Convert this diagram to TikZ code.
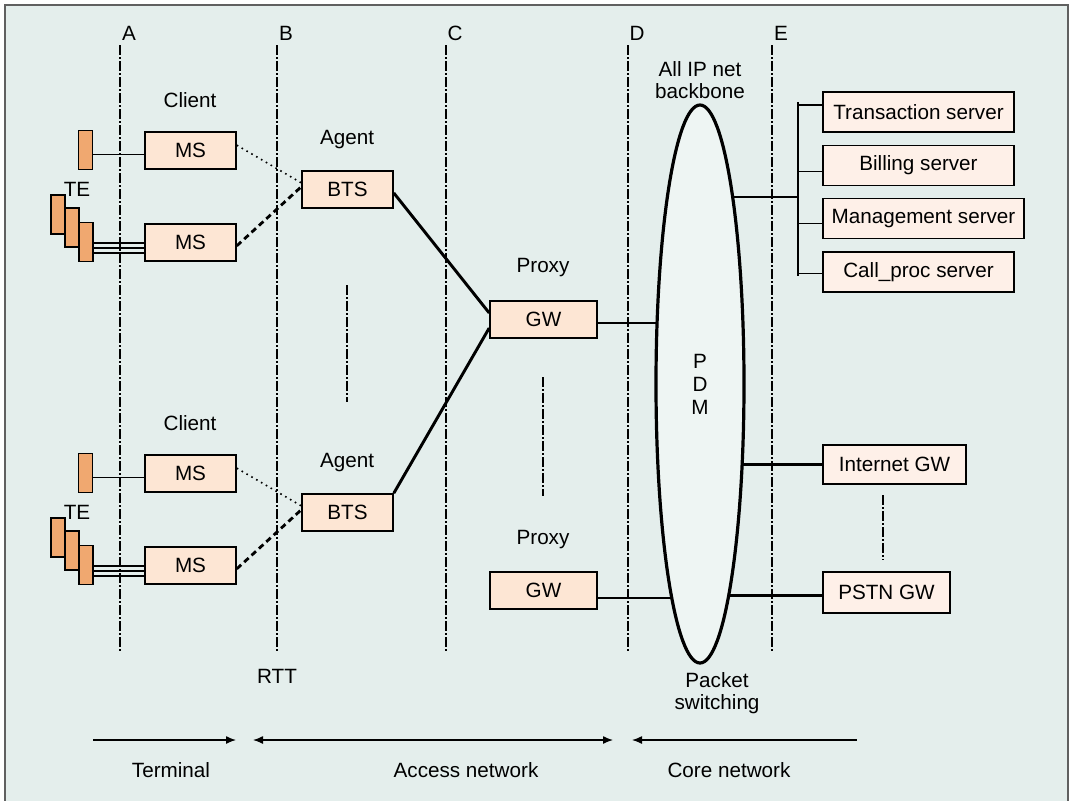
\documentclass[tikz,border=0pt]{standalone}
\usepackage{fontspec}
\setmainfont{Liberation Sans}
\usetikzlibrary{shapes.geometric,arrows.meta}

\definecolor{bgcol}{RGB}{228,238,236}
\definecolor{ellcol}{RGB}{238,245,243}
\definecolor{boxcol}{RGB}{253,230,212}
\definecolor{srvcol}{RGB}{254,240,232}
\definecolor{tecol}{RGB}{240,168,112}
\definecolor{framecol}{RGB}{96,96,96}

\begin{document}
\begin{tikzpicture}[x=0.75pt, y=-0.75pt, >={Latex[length=7.5pt,width=6pt]},
    font=\fontsize{15.5}{16}\selectfont]

    \tikzset{%
    every unit/.style={
        draw,
        fill=boxcol,
        line width=1.2pt,
        inner sep=0pt,
        minimum height=27.75pt
        },
    ms box/.style={every unit, minimum width=68.25pt},
    gw box/.style={every unit, minimum width=80.25pt},
    server box/.style={every unit, fill=srvcol, minimum width=143.25pt, minimum height=30pt},
    te unit/.style={draw, fill=tecol, line width=1.2pt, inner sep=0pt,
        minimum width=10.5pt, minimum height=29.25pt},
    backbone/.style={ellipse, draw, fill=ellcol, line width=2.4pt, inner sep=0pt,
        minimum width=66pt, minimum height=418.5pt, align=center,
        font=\fontsize{15.5}{17.25}\selectfont},
    divider/.style={line width=1pt,
        dash pattern=on 7.5pt off 1.5pt on 1.5pt off 1.5pt},
    thin link/.style={line width=1pt},
    trunk/.style={line width=2.2pt},
    weak link/.style={line width=1.2pt, dash pattern=on 1.2pt off 3pt},
    strong link/.style={line width=2.1pt, dash pattern=on 4.5pt off 3pt},
    }

    % Frame
    \useasboundingbox (0,0) rectangle (1071,800);
    \clip (0,0) rectangle (1071,800);
    \draw [framecol, line width=1.2pt, fill=bgcol] (5,5) rectangle (1068,830);

    % Reference points A to E
    \foreach \l/\x in {A/120,B/277,C/446,D/628,E/772} {
    \coordinate (ref-\l-top) at (\x,45);
    \coordinate (ref-\l-bot) at (\x,652);
    \draw [divider] (ref-\l-top) -- (ref-\l-bot);
    \node (lbl-\l) at (\x+9,33) {\l};
    }

    % Client and agent groups
    \foreach \g/\dy in {1/0,2/323} {
    \node [te unit] (te-\g) at (85.5,150+\dy) {};
    \node [te unit] (te-\g-a) at (58,214.5+\dy) {};
    \node [te unit] (te-\g-b) at (72,227.5+\dy) {};
    \node [te unit] (te-\g-c) at (86,242+\dy) {};
    \node (te-lbl-\g) at (77,189+\dy) {TE};
    \node (client-\g) at (190,100+\dy) {Client};
    \node [ms box] (ms-\g-a) at (190.5,150.5+\dy) {MS};
    \node [ms box] (ms-\g-b) at (190.5,242.5+\dy) {MS};
    \node (agent-\g) at (347,140+\dy) {Agent};
    \node [ms box] (bts-\g) at (347.5,189.5+\dy) {BTS};
    % terminal to MS
    \draw [thin link] ([yshift=-3.5pt]te-\g.east) -- ([yshift=-3.5pt]te-\g.east -| ms-\g-a.west);
    \foreach \s in {0.75pt,4.5pt,8.25pt}
    \draw [thin link] ([yshift=-\s]te-\g-c.east) -- ([yshift=-\s]te-\g-c.east -| ms-\g-b.west);
    % MS to BTS
    \draw [weak link] ([yshift=4pt]ms-\g-a.east) -- ([yshift=5pt]bts-\g.west);
    \draw [strong link] ([yshift=-2.5pt]ms-\g-b.east) -- ([yshift=2pt]bts-\g.west);
    }

    % Proxy layer
    \node (proxy-1) at (543,268) {Proxy};
    \node [gw box] (gw-1) at (543.5,319.5) {GW};
    \node (proxy-2) at (543,540) {Proxy};
    \node [gw box] (gw-2) at (543.5,590.5) {GW};

    \draw [trunk] ([yshift=-2.6pt]bts-1.east) -- ([yshift=4.9pt]gw-1.west);
    \draw [trunk] (bts-2.north east) -- ([yshift=-6.4pt]gw-1.west);

    % Servers
    \foreach \n/\t/\x/\y/\w in {1/Transaction server/918.5/112/143.25pt,
        2/Billing server/918.5/165.5/143.25pt,
        3/Management server/923.5/218.5/150.75pt,
        4/Call\_proc server/918.5/272/143.25pt}
    \node [server box, minimum width=\w] (srv-\n) at (\x,\y) {\t};

    \node [every unit, fill=srvcol, minimum width=107.25pt, minimum height=29.25pt] (inet-gw) at (894.5,464.5) {Internet GW};
    \node [every unit, fill=srvcol, minimum width=95.25pt, minimum height=30.75pt] (pstn-gw) at (886.5,592.5) {PSTN GW};

    % Server bus
    \coordinate (bus-top) at (798,102);
    \coordinate (bus-bot) at (798,276);
    \coordinate (bus-tap) at (798,197);
    \draw [trunk] (bus-top) -- (bus-bot);
    \foreach \n/\b in {1/5.2pt,2/-4.7pt,3/-3.5pt,4/-1pt}
    \draw [thin link] ([yshift=\b]srv-\n.west -| bus-top) -- ([yshift=\b]srv-\n.west);

    % Links into the backbone
    \coordinate (pdm-c) at (700,384);
    \draw [trunk] ([yshift=-2.6pt]gw-1.east) -- ([yshift=-2.6pt]gw-1.east -| pdm-c);
    \draw [trunk] ([yshift=-5.6pt]gw-2.east) -- ([yshift=-5.6pt]gw-2.east -| pdm-c);
    \draw [trunk] (pdm-c |- bus-tap) -- (bus-tap);
    \draw [trunk] (pdm-c |- inet-gw.west) -- (inet-gw.west);
    \draw [trunk] ([yshift=-2.4pt]pstn-gw.west -| pdm-c) -- ([yshift=-2.4pt]pstn-gw.west);

    % Backbone
    \node [backbone] (pdm) at (pdm-c) {P\\D\\M};
    \node [align=center] (pdm-top) at (700,80) {All IP net\\backbone};
    \node [align=center] (pdm-bot) at (717,693) {Packet\\switching};
    \node (rtt) at (277,676) {RTT};

    % Repeated units
    \foreach \n/\x/\ya/\yb in {bts/347/285/402, gw/543/377/496, gws/883/495/560} {
    \coordinate (gap-\n-top) at (\x,\ya);
    \coordinate (gap-\n-bot) at (\x,\yb);
    \draw [divider] (gap-\n-top) -- (gap-\n-bot);
    }

    % Domains
    \coordinate (term-l) at (93,740);
    \coordinate (term-r) at (236,740);
    \coordinate (acc-l) at (253,740);
    \coordinate (acc-r) at (613,740);
    \coordinate (core-l) at (632,740);
    \coordinate (core-r) at (857,740);
    \draw [thin link, ->] (term-l) -- (term-r);
    \draw [thin link, <->] (acc-l) -- (acc-r);
    \draw [thin link, <-] (core-l) -- (core-r);
    \node (terminal) at (171,770) {Terminal};
    \node (access) at (466,770) {Access network};
    \node (core) at (729,770) {Core network};

\end{tikzpicture}
\end{document}
